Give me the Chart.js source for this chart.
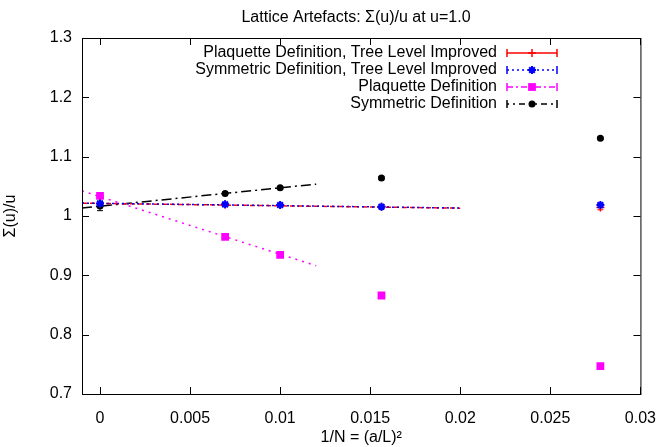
<!DOCTYPE html>
<html>
<head>
<meta charset="utf-8">
<script src="https://cdn.jsdelivr.net/npm/chart.js@4"></script>
<style>
    body { margin: 0; background: #fff; }
</style>
</head>
<body>
<canvas id="myChart" width="671" height="447"></canvas>
<script>
// 1/N for L/a = 12, 10, 8, 6, plus the continuum value at 0
const xValues = [0, 1 / 144, 1 / 100, 1 / 64, 1 / 36];

const plaqTreeLevel = [1.021, 1.0195, 1.0185, 1.0155, 1.0145];
const plaqTreeLevelErr = [0.003, 0.002, 0.002, 0.002, 0.004];
const symTreeLevel = [1.021, 1.0196, 1.0185, 1.0156, 1.0185];
const symTreeLevelErr = [0.003, 0.002, 0.002, 0.002, 0.003];
const plaq = [1.034, 0.965, 0.9346, 0.866, 0.747];
const plaqErr = [0.004, 0.002, 0.002, 0.002, 0.002];
const sym = [1.017, 1.038, 1.0475, 1.064, 1.131];
const symErr = [0.008, 0.002, 0.002, 0.002, 0.002];

// linear fits (end points of the fit range)
const treeFitX = [-0.001, 0.02];
const plaqTreeFit = [1.0216, 1.0132];
const symTreeFit = [1.0218, 1.0134];
const fitX = [-0.001, 0.012];
const plaqFit = [1.0423, 0.9162];
const symFit = [1.0134, 1.0537];

const xTicks = [0, 0.005, 0.01, 0.015, 0.02, 0.025, 0.03];
const xTickLabels = ['0', '0.005', '0.01', '0.015', '0.02', '0.025', '0.03'];
const yTicks = [0.7, 0.8, 0.9, 1.0, 1.1, 1.2, 1.3];
const yTickLabels = ['0.7', '0.8', '0.9', '1', '1.1', '1.2', '1.3'];

const FONT = '"Liberation Sans", Arial, sans-serif';

const toPoints = (xs, ys) => xs.map((x, i) => ({ x: x, y: ys[i] }));

function fitLine(xs, ys, color, dash, order) {
    return {
        fit: true,
        label: '',
        data: toPoints(xs, ys),
        showLine: true,
        pointRadius: 0,
        borderColor: color,
        borderWidth: 1.5,
        borderDash: dash,
        order: order
    };
}

// error bars under the markers
const errorBars = {
    id: 'errorBars',
    beforeDatasetsDraw(chart) {
        const ctx = chart.ctx;
        const yScale = chart.scales.y;
        ctx.save();
        chart.data.datasets.forEach((ds, i) => {
            if (!ds.errors) return;
            const meta = chart.getDatasetMeta(i);
            ctx.strokeStyle = ds.borderColor;
            ctx.lineWidth = 1;
            meta.data.forEach((pt, j) => {
                const v = ds.data[j].y;
                const top = yScale.getPixelForValue(v + ds.errors[j]);
                const bot = yScale.getPixelForValue(v - ds.errors[j]);
                ctx.beginPath();
                ctx.moveTo(pt.x, top);
                ctx.lineTo(pt.x, bot);
                ctx.moveTo(pt.x - 3, top);
                ctx.lineTo(pt.x + 3, top);
                ctx.moveTo(pt.x - 3, bot);
                ctx.lineTo(pt.x + 3, bot);
                ctx.stroke();
            });
        });
        ctx.restore();
    }
};

// gnuplot style frame with inward ticks on all four sides
const frame = {
    id: 'frame',
    afterDatasetsDraw(chart) {
        const { ctx, chartArea: a, scales } = chart;
        ctx.save();
        ctx.strokeStyle = '#000';
        ctx.lineWidth = 1;
        ctx.strokeRect(a.left + 0.5, a.top + 0.5, a.right - a.left, a.bottom - a.top);
        ctx.beginPath();
        xTicks.forEach(v => {
            const x = Math.round(scales.x.getPixelForValue(v)) + 0.5;
            ctx.moveTo(x, a.bottom);
            ctx.lineTo(x, a.bottom - 7);
            ctx.moveTo(x, a.top);
            ctx.lineTo(x, a.top + 7);
        });
        yTicks.forEach(v => {
            const y = Math.round(scales.y.getPixelForValue(v)) + 0.5;
            ctx.moveTo(a.left, y);
            ctx.lineTo(a.left + 7, y);
            ctx.moveTo(a.right, y);
            ctx.lineTo(a.right - 7, y);
        });
        ctx.stroke();
        ctx.restore();
    }
};

// key in the top right corner: text right aligned, sample to the right
const keyBox = {
    id: 'keyBox',
    afterDatasetsDraw(chart) {
        const ctx = chart.ctx;
        const textRight = 497, x1 = 507, x2 = 557;
        let y = 53;
        ctx.save();
        ctx.font = '16px ' + FONT;
        ctx.textAlign = 'right';
        ctx.textBaseline = 'middle';
        chart.data.datasets.forEach(ds => {
            if (ds.fit) return;
            ctx.fillStyle = '#000';
            ctx.fillText(ds.label, textRight, y);
            ctx.strokeStyle = ds.borderColor;
            ctx.lineWidth = 1.5;
            ctx.setLineDash(ds.keyDash);
            ctx.beginPath();
            ctx.moveTo(x1, y);
            ctx.lineTo(x2, y);
            ctx.stroke();
            ctx.setLineDash([]);
            ctx.beginPath();
            ctx.moveTo(x1, y - 4);
            ctx.lineTo(x1, y + 4);
            ctx.moveTo(x2, y - 4);
            ctx.lineTo(x2, y + 4);
            ctx.stroke();
            ctx.fillStyle = ds.borderColor;
            ctx.lineWidth = ds.pointBorderWidth;
            Chart.helpers.drawPoint(ctx, {
                pointStyle: ds.pointStyle,
                radius: ds.pointRadius,
                rotation: 0,
                borderWidth: ds.pointBorderWidth
            }, (x1 + x2) / 2, y);
            y += 17;
        });
        ctx.restore();
    }
};

const plotTitle = {
    id: 'plotTitle',
    afterDraw(chart) {
        const ctx = chart.ctx;
        ctx.save();
        ctx.font = '16px ' + FONT;
        ctx.fillStyle = '#000';
        ctx.textAlign = 'center';
        ctx.textBaseline = 'middle';
        ctx.fillText('Lattice Artefacts: Σ(u)/u at u=1.0', 356, 18);
        ctx.restore();
    }
};

Chart.defaults.font.family = FONT;
Chart.defaults.font.size = 16;
Chart.defaults.color = '#000';

const ctx = document.getElementById('myChart');
const myChart = new Chart(ctx, {
    type: 'scatter',
    data: {
        datasets: [
            {
                label: 'Plaquette Definition, Tree Level Improved',
                data: toPoints(xValues, plaqTreeLevel),
                errors: plaqTreeLevelErr,
                pointStyle: 'cross',
                pointRadius: 4,
                pointBorderWidth: 1.5,
                borderColor: 'rgb(255, 0, 0)',
                backgroundColor: 'rgb(255, 0, 0)',
                keyDash: [],
                order: 1
            },
            {
                label: 'Symmetric Definition, Tree Level Improved',
                data: toPoints(xValues, symTreeLevel),
                errors: symTreeLevelErr,
                pointStyle: 'star',
                pointRadius: 4,
                pointBorderWidth: 2,
                borderColor: 'rgb(0, 0, 255)',
                backgroundColor: 'rgb(0, 0, 255)',
                keyDash: [2, 3],
                order: 0
            },
            {
                label: 'Plaquette Definition',
                data: toPoints(xValues, plaq),
                errors: plaqErr,
                pointStyle: 'rect',
                pointRadius: 5.5,
                pointBorderWidth: 0,
                borderColor: 'rgb(255, 0, 255)',
                backgroundColor: 'rgb(255, 0, 255)',
                keyDash: [6, 3, 2, 3],
                order: 2
            },
            {
                label: 'Symmetric Definition',
                data: toPoints(xValues, sym),
                errors: symErr,
                pointStyle: 'circle',
                pointRadius: 3.5,
                pointBorderWidth: 0,
                borderColor: 'rgb(0, 0, 0)',
                backgroundColor: 'rgb(0, 0, 0)',
                keyDash: [2, 4, 2, 4, 6, 4],
                order: 3
            },
            fitLine(treeFitX, plaqTreeFit, 'rgb(255, 0, 0)', [5, 3], 5),
            fitLine(treeFitX, symTreeFit, 'rgb(0, 0, 255)', [2, 3], 4),
            fitLine(fitX, plaqFit, 'rgb(255, 0, 255)', [2, 5], 6),
            fitLine(fitX, symFit, 'rgb(0, 0, 0)', [10, 4, 2, 4], 7)
        ]
    },
    plugins: [errorBars, frame, keyBox, plotTitle],
    options: {
        responsive: false,
        animation: false,
        layout: { padding: { top: 38, right: 20, left: 0, bottom: 0 } },
        plugins: {
            legend: { display: false },
            tooltip: { enabled: false }
        },
        scales: {
            x: {
                type: 'linear',
                min: -0.001,
                max: 0.03,
                afterBuildTicks: s => { s.ticks = xTicks.map(v => ({ value: v })); },
                afterFit: s => { s.height = 53; },
                grid: { display: false, drawTicks: false },
                border: { display: false },
                ticks: {
                    padding: 15,
                    maxRotation: 0,
                    autoSkip: false,
                    callback: (v, i) => xTickLabels[i]
                },
                title: { display: true, text: '1/N = (a/L)²', padding: 0 }
            },
            y: {
                type: 'linear',
                min: 0.7,
                max: 1.3,
                afterBuildTicks: s => { s.ticks = yTicks.map(v => ({ value: v })); },
                afterFit: s => { s.width = 82; },
                grid: { display: false, drawTicks: false },
                border: { display: false },
                ticks: {
                    padding: 10,
                    autoSkip: false,
                    callback: (v, i) => yTickLabels[i]
                },
                title: { display: true, text: 'Σ(u)/u', padding: { top: 1, bottom: 0 } }
            }
        }
    }
});
</script>
</body>
</html>
